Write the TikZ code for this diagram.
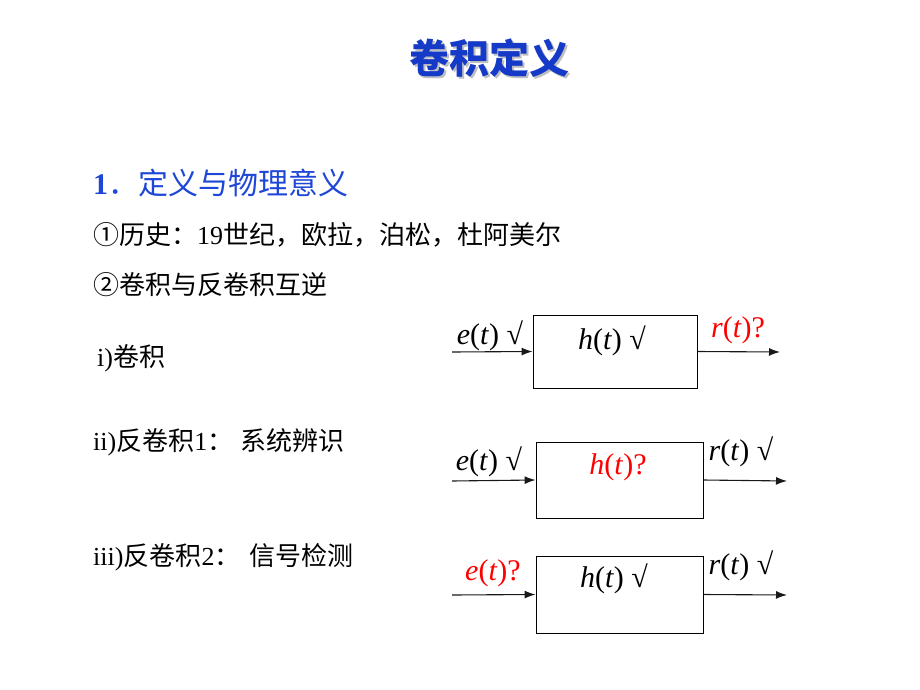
\documentclass[tikz,border=0pt]{standalone}
\usepackage{fontspec}
\setmainfont{Liberation Serif}
\newfontfamily\cjk{Noto Sans CJK SC}
\usetikzlibrary{arrows.meta,positioning}
\definecolor{AzulTitulo}{RGB}{22,58,200}
\definecolor{AzulSeccion}{RGB}{30,70,215}
\definecolor{RojoIncognita}{RGB}{255,0,0}
\newcommand{\zh}[1]{{\cjk #1}}
\newcommand{\sen}[1]{\textit{#1}(\textit{t})}

\begin{document}
\begin{tikzpicture}[x=1pt,y=-1pt,>={Latex[length=11pt,width=8pt]},
  bloque/.style={draw,line width=0.9pt,inner sep=0pt},
  senal/.style={inner sep=0pt,font=\fontsize{30}{32}\selectfont},
  linea/.style={inner sep=0pt,anchor=west,font=\fontsize{26}{28}\selectfont},
  flecha/.style={->,line width=1.1pt,black!90}]
  \useasboundingbox (0,0) rectangle (920,690);
  % titulo y apartados
  \node[inner sep=0pt,text=black!25,font=\cjk\bfseries\fontsize{40}{42}\selectfont] at (491,60) {卷积定义};
  \node[inner sep=0pt,text=AzulTitulo,font=\cjk\bfseries\fontsize{40}{42}\selectfont] (titulo) at (489,58) {卷积定义};
  \node[linea,text=AzulSeccion,font=\fontsize{30}{32}\selectfont] (sec1) at (93,183) {\textbf{1}\zh{．定义与物理意义}};
  \node[linea] (hist) at (93,235) {\zh{①历史：}19\zh{世纪，欧拉，泊松，杜阿美尔}};
  \node[linea] (inv) at (93,285) {\zh{②卷积与反卷积互逆}};
  \node[linea] (caso1) at (97,358) {i)\zh{卷积}};
  \node[linea] (caso2) at (93,442) {ii)\zh{反卷积}1\zh{：\hspace{7pt}系统辨识}};
  \node[linea] (caso3) at (93,557) {iii)\zh{反卷积}2\zh{：\hspace{9pt}信号检测}};
  % sistema 1: convolucion
  \node[bloque,minimum width=164pt,minimum height=73pt] (H1) at (615,351.5) {};
  \coordinate (in1) at (452,352);
  \coordinate (out1) at (780,352);
  \draw[flecha] (in1) -- (H1.west);
  \draw[flecha] (H1.east) -- (out1);
  \node[senal] (e1) at (490,336) {\sen{e} √};
  \node[senal] (h1) at (612,341) {\sen{h} √};
  \node[senal,text=RojoIncognita] (r1) at (738,330) {\sen{r}?};
  % sistema 2: identificacion
  \node[bloque,minimum width=167pt,minimum height=76pt] (H2) at (619.5,480) {};
  \coordinate (in2) at (452,481);
  \coordinate (out2) at (787,481);
  \draw[flecha] (in2) -- (H2.west);
  \draw[flecha] (H2.east) -- (out2);
  \node[senal] (e2) at (489,462) {\sen{e} √};
  \node[senal,text=RojoIncognita] (h2) at (618,467) {\sen{h}?};
  \node[senal] (r2) at (741,452) {\sen{r} √};
  % sistema 3: deteccion
  \node[bloque,minimum width=167pt,minimum height=77pt] (H3) at (619.5,594.5) {};
  \coordinate (in3) at (452,595);
  \coordinate (out3) at (787,595);
  \draw[flecha] (in3) -- (H3.west);
  \draw[flecha] (H3.east) -- (out3);
  \node[senal,text=RojoIncognita] (e3) at (493,573) {\sen{e}?};
  \node[senal] (h3) at (614,579) {\sen{h} √};
  \node[senal] (r3) at (741,566) {\sen{r} √};
\end{tikzpicture}
\end{document}
